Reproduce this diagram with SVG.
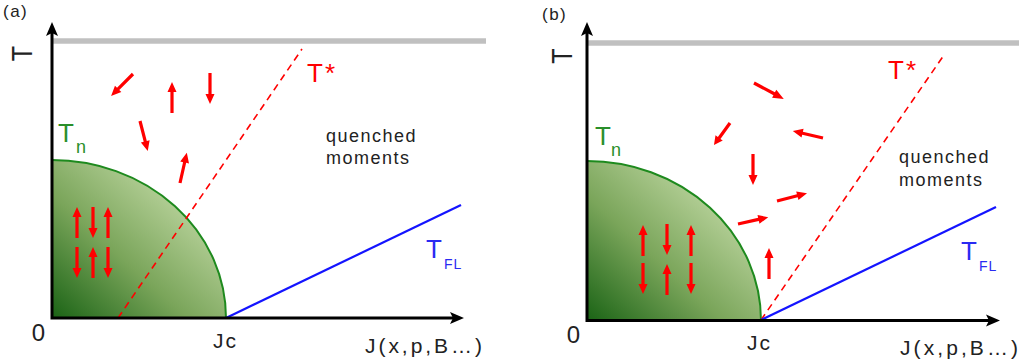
<svg xmlns="http://www.w3.org/2000/svg" xmlns:xlink="http://www.w3.org/1999/xlink" width="1021" height="362" viewBox="0 0 1021 362">
<style>
.lbl{font-family:"Liberation Sans",Arial,sans-serif;}
.tag{font-size:17px;fill:#222;letter-spacing:1.5px;}
.axis{fill:none;stroke:#000;stroke-width:3;marker-start:url(#ax);marker-end:url(#ax);}
.top{stroke:#c0c0c0;stroke-width:5.5;}
.edge{fill:none;stroke:#1e8a1e;stroke-width:2;}
.tstar{stroke:#ff0000;stroke-width:1.6;stroke-dasharray:7 5;fill:none;}
.tfl{stroke:#1414ff;stroke-width:2.2;fill:none;}
.red{fill:#ff0000;}
.grn{fill:#2a8f2a;}
.blu{fill:#2a2af2;}
.blk{fill:#222;}
.big{font-size:26px;}
.sub{font-size:18px;}
.sub2{font-size:14px;letter-spacing:1px;}
.num{font-size:24px;}
.jc{font-size:21px;letter-spacing:2px;}
.jx{font-size:21px;}
.qm{font-size:18px;letter-spacing:1.5px;}
</style>
<defs>
<marker id="ax" markerUnits="userSpaceOnUse" markerWidth="16" markerHeight="14" viewBox="0 0 16 14" refX="6" refY="7" orient="auto-start-reverse">
<path d="M0,1 L14,7 L0,13 L3,7 Z" fill="#000"/>
</marker>
<linearGradient id="gr" x1="0" y1="1" x2="0.78" y2="0.22">
<stop offset="0" stop-color="#1a6315"/>
<stop offset="0.5" stop-color="#7aa55a"/>
<stop offset="1" stop-color="#bcd59f"/>
</linearGradient>
<path id="arr" d="M0,-1.6 H21 V-4.5 L31,0 L21,4.5 V1.6 H0 Z" fill="#ff0000"/>
</defs>

<g id="panel-a">
<text id="tag-a" class="lbl tag" x="3" y="17">(a)</text>
<line id="top-a" class="top" x1="53" y1="41" x2="486" y2="41"/>
<g id="region-a">
<path d="M52,318 V160 A174,158 0 0 1 226,318 Z" fill="url(#gr)"/>
<path class="edge" d="M52,160 A174,158 0 0 1 226,318"/>
</g>
<g id="connectors-a">
<line class="tstar" x1="118" y1="318" x2="302" y2="49"/>
<line class="tfl" x1="226" y1="318" x2="461" y2="205"/>
</g>
<g id="spins-a">
<use href="#arr" transform="translate(133,74) rotate(135)"/>
<use href="#arr" transform="translate(172,113) rotate(-90)"/>
<use href="#arr" transform="translate(210,73) rotate(90)"/>
<use href="#arr" transform="translate(140,121) rotate(75.5)"/>
<use href="#arr" transform="translate(180,183) rotate(-77.3)"/>
<use href="#arr" transform="translate(77,238) rotate(-90)"/>
<use href="#arr" transform="translate(93,207) rotate(90)"/>
<use href="#arr" transform="translate(108,238) rotate(-90)"/>
<use href="#arr" transform="translate(77,247) rotate(90)"/>
<use href="#arr" transform="translate(93,278) rotate(-90)"/>
<use href="#arr" transform="translate(108,247) rotate(90)"/>
</g>
<path id="axes-a" class="axis" d="M52,30 V318 H456"/>
<g id="labels-a" class="lbl">
<text class="blk" font-size="25" transform="translate(32,53.5) rotate(-90) scale(1,1.2)" text-anchor="middle">T</text>
<text class="blk num" x="38.5" y="341" text-anchor="middle">0</text>
<text class="blk jc" x="213" y="348">Jc</text>
<text class="blk jx" x="365" y="353" textLength="117" lengthAdjust="spacing">J(x,p,B…)</text>
<text class="grn big" x="58" y="142">T</text>
<text class="grn sub" x="76" y="153">n</text>
<text class="red big" x="307" y="82" letter-spacing="2">T*</text>
<text class="blu big" x="426" y="258">T</text>
<text class="blu sub2" x="444" y="269">FL</text>
<text class="blk qm" x="326" y="142">quenched</text>
<text class="blk qm" x="326" y="164">moments</text>
</g>
</g>

<g id="panel-b">
<text id="tag-b" class="lbl tag" x="542" y="20">(b)</text>
<line id="top-b" class="top" x1="588" y1="43" x2="1019" y2="43"/>
<g id="region-b">
<path d="M587,320.5 V161 A174,159.5 0 0 1 761,320.5 Z" fill="url(#gr)"/>
<path class="edge" d="M587,161 A174,159.5 0 0 1 761,320.5"/>
</g>
<g id="connectors-b">
<line class="tstar" x1="761" y1="320" x2="944" y2="55"/>
<line class="tfl" x1="761" y1="320" x2="996" y2="207"/>
</g>
<g id="spins-b">
<use href="#arr" transform="translate(754,83) rotate(28.1) scale(1.09,1)"/>
<use href="#arr" transform="translate(823,138) rotate(-166.9)"/>
<use href="#arr" transform="translate(730,123) rotate(126) scale(0.88,1)"/>
<use href="#arr" transform="translate(753,154) rotate(90)"/>
<use href="#arr" transform="translate(777,201) rotate(-14.5)"/>
<use href="#arr" transform="translate(738,224) rotate(-12.7)"/>
<use href="#arr" transform="translate(769,279) rotate(-90)"/>
<use href="#arr" transform="translate(643,256) rotate(-90)"/>
<use href="#arr" transform="translate(667,224) rotate(90)"/>
<use href="#arr" transform="translate(691,256) rotate(-90)"/>
<use href="#arr" transform="translate(643,263) rotate(90)"/>
<use href="#arr" transform="translate(667,295) rotate(-90)"/>
<use href="#arr" transform="translate(691,263) rotate(90)"/>
</g>
<path id="axes-b" class="axis" d="M587,30 V320.5 H992"/>
<g id="labels-b" class="lbl">
<text class="blk" font-size="25" transform="translate(572,56) rotate(-90) scale(1,1.2)" text-anchor="middle">T</text>
<text class="blk num" x="573.5" y="343" text-anchor="middle">0</text>
<text class="blk jc" x="747" y="350">Jc</text>
<text class="blk jx" x="900" y="355" textLength="118" lengthAdjust="spacing">J(x,p,B…)</text>
<text class="grn big" x="595" y="145">T</text>
<text class="grn sub" x="611" y="156">n</text>
<text class="red big" x="888" y="79" letter-spacing="2">T*</text>
<text class="blu big" x="961" y="260">T</text>
<text class="blu sub2" x="979" y="271">FL</text>
<text class="blk qm" x="899" y="163">quenched</text>
<text class="blk qm" x="899" y="186">moments</text>
</g>
</g>
</svg>
